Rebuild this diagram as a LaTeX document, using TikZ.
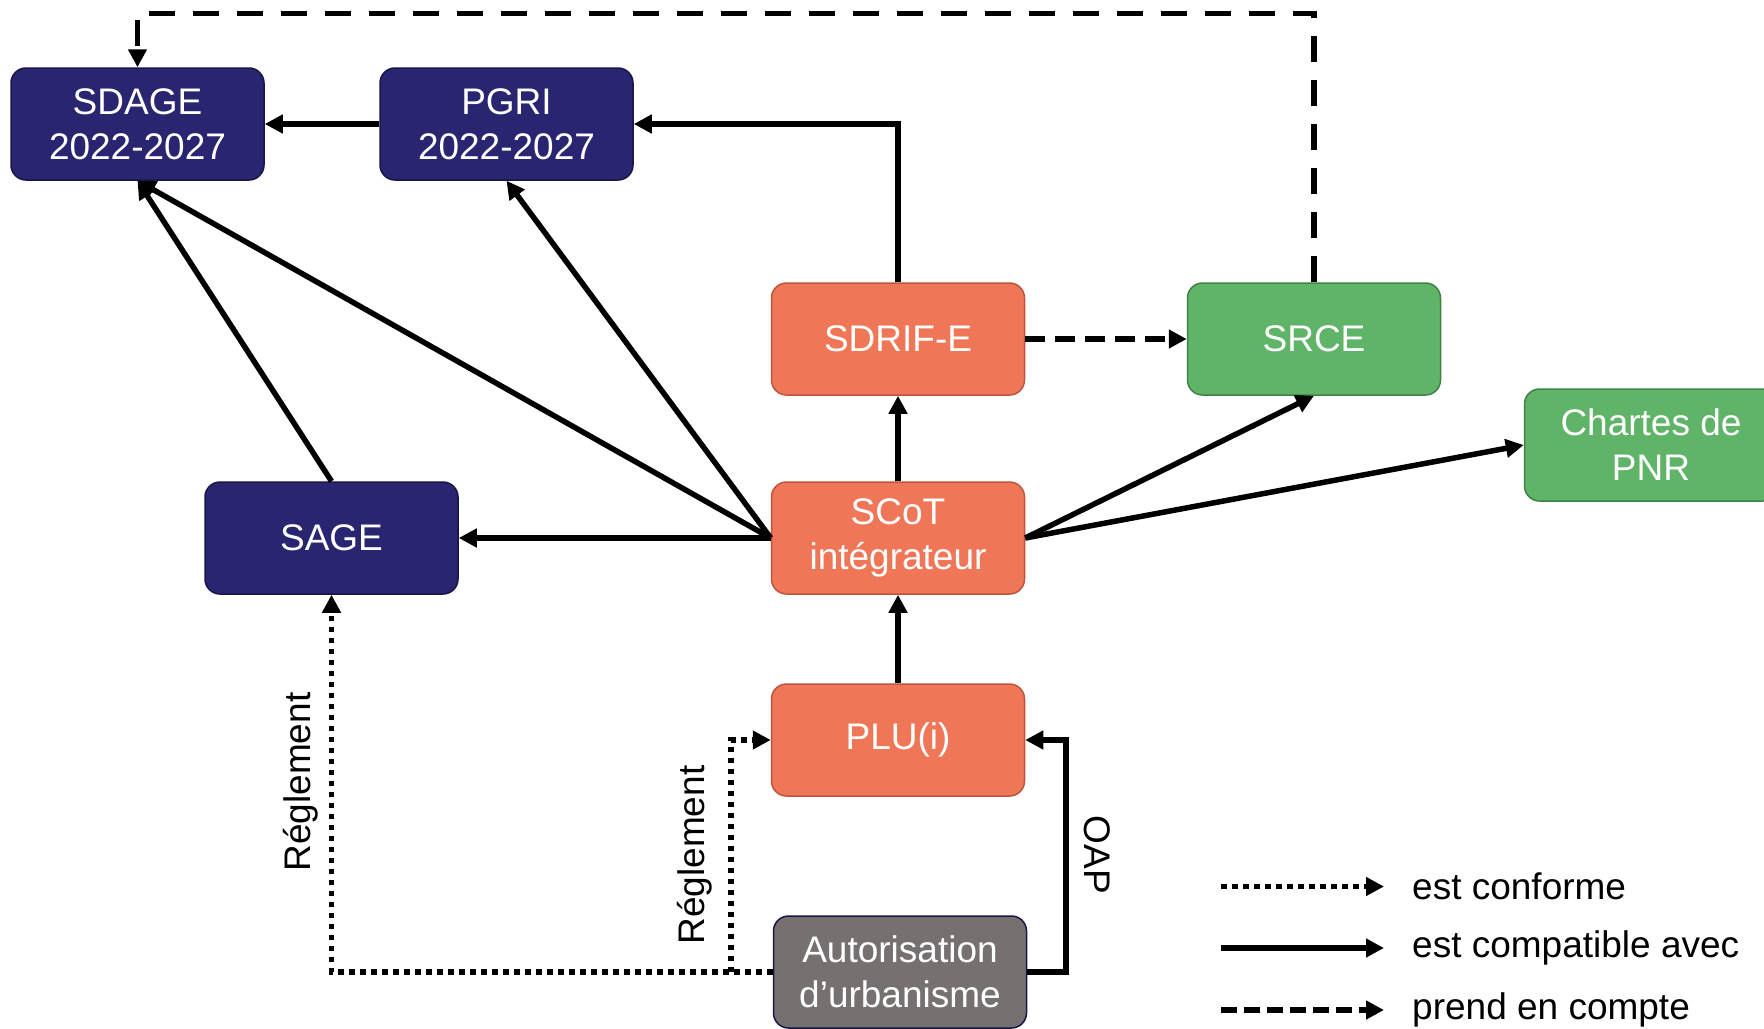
\documentclass[tikz,border=0pt]{standalone}
\usepackage{fontspec}
\setmainfont{Liberation Sans}
\usetikzlibrary{arrows.meta,calc}
\definecolor{navy}{RGB}{42,37,112}
\definecolor{navyb}{RGB}{25,22,70}
\definecolor{orng}{RGB}{239,119,88}
\definecolor{orngb}{RGB}{190,84,60}
\definecolor{grn}{RGB}{96,180,104}
\definecolor{grnb}{RGB}{62,130,70}
\definecolor{gry}{RGB}{118,113,112}
\tikzset{
  box/.style={rounded corners=15pt, minimum width=253pt, minimum height=112pt, draw, line width=1.5pt,
    text=white, align=center, inner sep=0pt, font=\fontsize{37}{45}\selectfont},
  bnavy/.style={box, fill=navy, draw=navyb},
  borng/.style={box, fill=orng, draw=orngb},
  bgrn/.style={box, fill=grn, draw=grnb},
  bgry/.style={box, fill=gry, draw=navyb},
  conn/.style={line width=5.5pt, -{Triangle[length=18pt,width=18pt]}},
  solidc/.style={conn},
  dashc/.style={conn, dash pattern=on 20pt off 10pt},
  dashtop/.style={conn, dash pattern=on 26pt off 18pt},
  dotc/.style={conn, dash pattern=on 5.5pt off 5.5pt},
  lbl/.style={font=\fontsize{37}{45}\selectfont, inner sep=0pt},
}
\begin{document}
\begin{tikzpicture}[x=1pt,y=-1pt]
\useasboundingbox (0,0) rectangle (1764,1028);
\node[bnavy] (SDAGE) at (137.5,124) {SDAGE\\2022-2027};
\node[bnavy] (PGRI) at (506.5,124) {PGRI\\2022-2027};
\node[borng] (SDRIF) at (898,339) {SDRIF-E};
\node[bgrn] (SRCE) at (1314,339) {SRCE};
\node[bgrn] (PNR) at (1651,445) {Chartes de\\PNR};
\node[bnavy] (SAGE) at (331.5,538) {SAGE};
\node[borng] (SCoT) at (898,538) {SCoT\\intégrateur};
\node[borng] (PLU) at (898,740) {PLU(i)};
\node[bgry] (AUT) at (900,972) {Autorisation\\d’urbanisme};

\coordinate (top) at (0,13.5);
\coordinate (oapx) at (1066,0);
\coordinate (br) at (731,972);

\draw[dashtop] (SRCE.north) -- (SRCE.north |- top) -| (SDAGE.north);
\draw[solidc] (PGRI.west) -- (SDAGE.east);
\draw[solidc] (SDRIF.north) |- (PGRI.east);
\draw[dashc] (SDRIF.east) -- (SRCE.west);
\draw[solidc] (SCoT.north) -- (SDRIF.south);
\draw[solidc] (SCoT.west) -- (SAGE.east);
\draw[solidc] (SCoT.west) -- (SDAGE.south);
\draw[solidc] (SCoT.west) -- (PGRI.south);
\draw[solidc] (SAGE.north) -- (SDAGE.south);
\draw[solidc] (SCoT.east) -- (SRCE.south);
\draw[solidc] (SCoT.east) -- (PNR.west);
\draw[solidc] (PLU.north) -- (SCoT.south);
\draw[solidc] (AUT.east) -- (AUT.east -| oapx) |- (PLU.east);
\draw[dotc] (AUT.west) -| (SAGE.south);
\draw[dotc] (br) |- (PLU.west);

\node[lbl, rotate=90] (r1) at (301,782) {Réglement};
\node[lbl, rotate=90] (r2) at (695,855) {Réglement};
\node[lbl, rotate=-90] (oap) at (1097,855) {OAP};

% legend
\coordinate (l1a) at (1221,886.5); \coordinate (l1b) at (1384,886.5);
\coordinate (l2a) at (1221,948); \coordinate (l2b) at (1384,948);
\coordinate (l3a) at (1221,1010); \coordinate (l3b) at (1384,1010);
\draw[dotc] (l1a) -- (l1b);
\draw[solidc] (l2a) -- (l2b);
\draw[conn, dash pattern=on 16pt off 7pt] (l3a) -- (l3b);
\node[lbl, anchor=west] (t1) at (1412,886.5) {est conforme};
\node[lbl, anchor=west] (t2) at (1412,948) {est compatible avec};
\node[lbl, anchor=west] (t3) at (1412,1010) {prend en compte};
\end{tikzpicture}
\end{document}
